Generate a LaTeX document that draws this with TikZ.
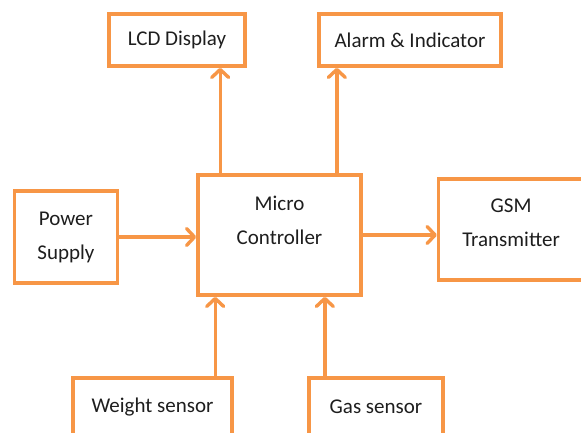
\documentclass[tikz,border=0pt]{standalone}
\usepackage{fontspec}
\setmainfont{Carlito}
\usepackage{tikz}
\usetikzlibrary{arrows.meta, positioning}
\definecolor{boxorange}{RGB}{247,150,70}
\definecolor{inkgray}{RGB}{30,30,30}
\tikzset{
    blockbox/.style={rectangle, draw=boxorange, fill=white, line width=3.6pt, align=center, text=inkgray, font=\fontsize{21}{34}\selectfont, inner sep=0pt},
    flowarrow/.style={-{Straight Barb[length=8pt, width=17pt, line cap=round, line join=round]}, draw=boxorange, line width=3.4pt}
}

\begin{document}
\begin{tikzpicture}[x=1pt, y=-1pt]
\clip (0,0) rectangle (581,433);
\fill[white] (0,0) rectangle (581,433);

\node[blockbox, minimum width=163pt, minimum height=120pt, text depth=30pt] (mc) at (279.5,235) {Micro\\Controller};
\node[blockbox, minimum width=136pt, minimum height=52pt] (lcd) at (177,40) {LCD Display};
\node[blockbox, minimum width=182pt, minimum height=52pt] (alarm) at (410,40) {Alarm \& Indicator};
\node[blockbox, minimum width=103pt, minimum height=92pt, left=77pt of mc, yshift=-2pt] (power) {Power\\Supply};
\node[blockbox, minimum width=145pt, minimum height=101pt, right=74pt of mc, yshift=5.5pt, text depth=14pt] (gsm) {GSM\\Transmitter};
\node[blockbox, minimum width=159pt, minimum height=58pt] (weight) at (152.5,407) {Weight sensor};
\node[blockbox, minimum width=134pt, minimum height=58pt] (gas) at (376,407) {Gas sensor};

% inputs into the controller
\draw[flowarrow] (power.east) -- (power.east -| mc.west);
\draw[flowarrow] ([xshift=19pt]mc.south west |- weight.north) -- ([xshift=19pt]mc.south west);
\draw[flowarrow] ([xshift=-38pt]mc.south east |- gas.north) -- ([xshift=-38pt]mc.south east);

% outputs from the controller
\draw[flowarrow] ([xshift=24pt]mc.north west) -- ([xshift=24pt]mc.north west |- lcd.south);
\draw[flowarrow] ([xshift=-26pt]mc.north east) -- ([xshift=-26pt]mc.north east |- alarm.south);
\draw[flowarrow] (mc.east) -- (mc.east -| gsm.west);

\end{tikzpicture}
\end{document}
